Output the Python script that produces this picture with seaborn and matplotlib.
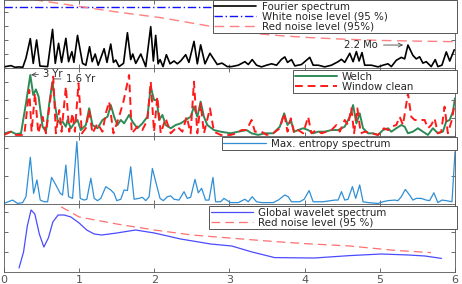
import numpy as np
import pandas as pd
import seaborn as sns
import matplotlib
matplotlib.use("Agg")
import matplotlib.pyplot as plt

# ---------------- data (frequency in cycles / year) ----------------
fourier_x = [0.0, 0.093, 0.146, 0.20, 0.25, 0.292, 0.35, 0.389, 0.434, 0.478, 0.58, 0.646, 0.682, 0.726,
             0.766, 0.823, 0.859, 0.903, 0.93, 0.978, 1.045, 1.089, 1.138, 1.173, 1.213, 1.253, 1.332,
             1.37, 1.42, 1.456, 1.487, 1.53, 1.59, 1.642, 1.686, 1.713, 1.753, 1.82, 1.886, 1.952, 1.987,
             2.018, 2.05, 2.076, 2.116, 2.16, 2.209, 2.262, 2.306, 2.35, 2.417, 2.46, 2.528, 2.572, 2.616,
             2.674, 2.74, 2.837, 2.9, 2.97, 3.028, 3.117, 3.205, 3.25, 3.302, 3.36, 3.426, 3.493, 3.56,
             3.626, 3.692, 3.736, 3.772, 3.825, 3.869, 3.958, 4.068, 4.113, 4.18, 4.267, 4.356, 4.445,
             4.489, 4.533, 4.6, 4.644, 4.688, 4.724, 4.763, 4.799, 4.887, 4.976, 5.042, 5.109, 5.153,
             5.219, 5.286, 5.33, 5.374, 5.44, 5.485, 5.529, 5.573, 5.618, 5.684, 5.737, 5.772, 5.826,
             5.884, 5.93, 5.99]
fourier_y = [0.08, 0.17, 0.05, 0.08, 0.05, 0.7, 2.1, 0.33, 2.0, 0.14, 0.1, 2.76, 0.33, 1.76,
             0.4, 2.12, 0.45, 1.17, 0.4, 2.33, 0.33, 0.2, 1.52, 0.45, 1.0, 0.2, 1.38,
             0.4, 1.71, 0.4, 0.57, 0.1, 0.33, 2.52, 0.6, 1.0, 0.33, 1.0, 0.1, 2.95, 0.5,
             2.33, 0.3, 0.6, 0.1, 0.95, 0.3, 0.5, 0.3, 0.5, 0.95, 0.4, 1.9, 0.3, 1.65,
             0.3, 1.05, 0.25, 0.35, 0.1, 0.1, 0.2, 0.45, 0.25, 0.6, 0.2, 0.08, 0.2, 0.3,
             0.2, 0.62, 0.79, 0.4, 0.6, 0.15, 0.25, 0.76, 0.2, 0.2, 0.08, 0.2, 0.45,
             0.62, 0.4, 1.05, 0.45, 1.17, 0.5, 1.1, 0.2, 0.2, 0.08, 0.2, 0.3, 0.1,
             0.55, 0.76, 0.65, 1.64, 0.9, 0.65, 0.8, 0.35, 0.45, 0.1, 0.6, 0.1, 0.2,
             1.15, 0.5, 1.3]
white_noise_level = 4.36
red_noise1_x = [0.25, 0.42, 1.0, 1.5, 2.08, 2.78, 3.03, 3.7, 4.1, 4.57, 5.0, 5.5, 6.0]
red_noise1_y = [5.3, 4.86, 4.4, 4.0, 3.6, 2.95, 2.6, 2.3, 2.16, 2.05, 1.97, 1.92, 1.88]

welch_x = [0.0, 0.093, 0.16, 0.226, 0.292, 0.35, 0.389, 0.425, 0.46, 0.513, 0.558, 0.602, 0.646, 0.682,
           0.713, 0.748, 0.779, 0.823, 0.845, 0.89, 0.934, 0.978, 1.022, 1.089, 1.133, 1.177, 1.244,
           1.31, 1.377, 1.421, 1.465, 1.509, 1.554, 1.598, 1.664, 1.709, 1.775, 1.841, 1.908, 1.952,
           1.996, 2.032, 2.063, 2.107, 2.151, 2.218, 2.284, 2.35, 2.417, 2.483, 2.527, 2.572, 2.616,
           2.66, 2.705, 2.793, 2.882, 3.014, 3.117, 3.227, 3.294, 3.382, 3.47, 3.581, 3.67, 3.727,
           3.772, 3.816, 3.86, 3.913, 3.98, 4.046, 4.113, 4.179, 4.268, 4.356, 4.445, 4.533, 4.6,
           4.644, 4.688, 4.732, 4.777, 4.843, 4.91, 4.976, 5.042, 5.109, 5.153, 5.219, 5.286, 5.33,
           5.374, 5.44, 5.507, 5.573, 5.64, 5.706, 5.772, 5.839, 5.883, 5.928, 5.972, 6.0]
welch_y = [0.15, 0.24, 0.11, 0.15, 1.81, 3.39, 2.28, 2.59, 2.19, 0.52, 0.24, 1.81, 3.02, 1.63,
           0.89, 0.7, 0.8, 0.52, 0.89, 0.43, 0.7, 0.89, 0.33, 0.61, 1.54, 0.61, 0.43,
           0.89, 1.07, 1.72, 1.07, 0.61, 0.89, 0.7, 1.17, 0.8, 0.43, 0.7, 1.07, 2.74,
           2.0, 2.0, 0.89, 1.17, 0.61, 0.43, 0.61, 0.7, 0.89, 1.07, 1.63, 1.07, 1.91,
           1.07, 0.61, 0.33, 0.24, 0.15, 0.24, 0.33, 0.15, 0.06, 0.15, 0.15, 0.52, 1.26,
           0.61, 0.89, 0.24, 0.33, 0.43, 0.33, 0.15, 0.24, 0.24, 0.33, 0.33, 0.52, 1.07,
           1.72, 0.7, 1.26, 0.43, 0.15, 0.15, 0.06, 0.33, 0.43, 0.24, 0.43, 0.61, 0.52,
           0.15, 0.24, 0.43, 0.24, 0.06, 0.43, 0.15, 0.24, 0.8, 0.89, 1.35, 2.1]

clean_x = [0.0, 0.093, 0.16, 0.27, 0.336, 0.367, 0.412, 0.456, 0.513, 0.558, 0.655, 0.69, 0.735, 0.766,
           0.823, 0.868, 0.912, 0.943, 0.991, 1.036, 1.089, 1.133, 1.177, 1.244, 1.31, 1.354, 1.399,
           1.456, 1.531, 1.589, 1.664, 1.7, 1.775, 1.841, 1.908, 1.952, 1.996, 2.04, 2.085, 2.151,
           2.218, 2.306, 2.373, 2.43, 2.483, 2.527, 2.572, 2.616, 2.66, 2.74, 2.793, 2.882, 3.014,
           3.094, 3.161, 3.227, 3.294, 3.338, 3.426, 3.493, 3.581, 3.67, 3.727, 3.772, 3.816, 3.86,
           3.913, 3.98, 4.046, 4.09, 4.157, 4.223, 4.29, 4.356, 4.422, 4.467, 4.533, 4.577, 4.622,
           4.657, 4.701, 4.746, 4.799, 4.887, 4.976, 5.055, 5.109, 5.153, 5.219, 5.264, 5.308, 5.374,
           5.418, 5.463, 5.529, 5.596, 5.64, 5.684, 5.728, 5.772, 5.817, 5.861, 5.905, 5.958, 6.0]
clean_y = [0.06, 0.24, 0.06, 0.06, 2.56, 0.24, 2.37, 0.15, 1.07, 0.15, 3.3, 0.15, 1.44, 0.24,
           2.74, 0.24, 1.26, 0.24, 2.93, 0.15, 0.43, 1.44, 0.15, 0.7, 0.24, 1.26, 1.91,
           0.15, 1.07, 1.91, 3.39, 0.15, 0.52, 0.33, 0.89, 3.02, 0.24, 2.19, 0.15, 0.98,
           0.15, 0.52, 0.24, 1.07, 0.15, 3.02, 0.15, 1.81, 0.15, 1.54, 0.24, 0.06, 0.06,
           0.15, 0.33, 0.33, 0.89, 0.24, 0.24, 0.06, 0.15, 0.43, 1.26, 0.24, 0.98, 0.15,
           0.33, 0.15, 1.07, 0.15, 0.33, 0.15, 0.24, 0.33, 0.61, 0.24, 0.89, 0.61, 1.54,
           0.15, 1.54, 0.15, 0.24, 0.15, 0.06, 0.43, 0.33, 0.52, 0.61, 1.07, 0.61, 2.37,
           1.07, 0.89, 0.89, 0.89, 0.43, 0.61, 0.98, 0.15, 0.24, 1.63, 0.15, 0.89, 1.91]

mem_x = [0.0, 0.026, 0.115, 0.181, 0.248, 0.292, 0.35, 0.394, 0.438, 0.482, 0.535, 0.58, 0.633, 0.69,
         0.748, 0.779, 0.823, 0.859, 0.912, 0.969, 1.014, 1.067, 1.102, 1.155, 1.2, 1.244, 1.288,
         1.354, 1.421, 1.465, 1.5, 1.554, 1.598, 1.642, 1.686, 1.731, 1.797, 1.841, 1.886, 1.93,
         1.974, 2.018, 2.076, 2.12, 2.173, 2.218, 2.262, 2.328, 2.395, 2.439, 2.483, 2.541, 2.585,
         2.629, 2.682, 2.727, 2.78, 2.815, 2.882, 2.926, 3.014, 3.117, 3.205, 3.249, 3.302, 3.36,
         3.426, 3.581, 3.648, 3.736, 3.781, 3.825, 3.935, 3.993, 4.059, 4.113, 4.245, 4.4, 4.445,
         4.489, 4.533, 4.577, 4.635, 4.679, 4.732, 4.777, 4.843, 4.976, 5.042, 5.109, 5.197, 5.241,
         5.286, 5.339, 5.396, 5.44, 5.485, 5.551, 5.618, 5.662, 5.719, 5.772, 5.826, 5.883, 5.96, 6.0]
mem_y = [0.02, 0.05, 0.14, 0.02, 0.05, 0.26, 1.67, 0.38, 0.86, 0.14, 0.08, 0.08, 0.95, 0.68,
         0.38, 0.32, 1.39, 0.26, 0.2, 2.23, 0.2, 0.14, 0.17, 0.92, 0.2, 0.12, 0.2,
         0.62, 0.5, 0.38, 0.12, 0.17, 0.5, 0.48, 1.33, 0.17, 0.2, 0.24, 0.12, 0.26,
         1.27, 0.8, 0.2, 0.12, 0.26, 0.29, 0.17, 0.14, 0.44, 0.2, 0.24, 0.88, 0.4,
         0.56, 0.14, 0.14, 0.95, 0.08, 0.08, 0.2, 0.05, 0.05, 0.17, 0.08, 0.26, 0.08,
         0.05, 0.05, 0.14, 0.32, 0.26, 0.08, 0.08, 0.17, 0.48, 0.08, 0.08, 0.14, 0.14,
         0.44, 0.14, 0.17, 0.62, 0.2, 0.68, 0.08, 0.05, 0.02, 0.08, 0.12, 0.14, 0.12,
         0.26, 0.52, 0.32, 0.14, 0.2, 0.2, 0.14, 0.12, 0.4, 0.05, 0.14, 0.12, 0.08, 1.86]

gws_x = [0.2, 0.26, 0.31, 0.36, 0.41, 0.47, 0.53, 0.59, 0.65, 0.72, 0.8, 0.89, 1.0, 1.1, 1.2, 1.3,
         1.5, 1.75, 2.0, 2.35, 2.75, 3.03, 3.3, 3.6, 4.13, 4.6, 5.02, 5.38, 5.6, 5.82]
gws_y = [0.2, 1.0, 2.3, 3.1, 2.9, 1.9, 1.25, 1.7, 2.5, 2.85, 2.85, 2.75, 2.45, 2.1, 1.9, 1.85,
         1.95, 2.1, 1.95, 1.65, 1.4, 1.3, 1.0, 0.72, 0.7, 0.82, 0.9, 0.85, 0.8, 0.68]
red_noise4_x = [0.6, 1.0, 1.5, 2.0, 2.5, 3.0, 3.5, 4.0, 4.6, 5.2, 5.68]
red_noise4_y = [3.6, 2.75, 2.4, 2.1, 1.85, 1.7, 1.55, 1.42, 1.3, 1.08, 0.97]

x_ticks = [0, 1, 2, 3, 4, 5, 6]
x_tick_labels = ["0", "1", "2", "3", "4", "5", "6"]

# ---------------- style ----------------
sns.set_theme(style="ticks")
plt.rcParams['font.family'] = ['DejaVu Sans']
plt.rcParams['axes.edgecolor'] = '#555555'
plt.rcParams['axes.linewidth'] = 0.6
plt.rcParams['xtick.color'] = '#555555'
plt.rcParams['ytick.color'] = '#555555'

W, H = 462, 284
fig = plt.figure(figsize=(W / 100, H / 100), dpi=100)
left, right = 4 / W, 455 / W
bands = [(0, 68), (68, 136), (136, 204), (204, 272)]
axes = []
for top, bot in bands:
    ax = fig.add_axes([left, 1 - bot / H, right - left, (bot - top) / H])
    axes.append(ax)

ylims = [(0, 68 / 14), (0, 68 / 18), (0, 68 / 28), (0, 68 / 20)]
yticks = [[1, 2, 3, 4], [1, 2, 3], [1, 2], [1, 2, 3]]


def add_legend(ax, x0, top):
    leg = ax.legend(loc='upper left', bbox_to_anchor=(x0, top - 0.5, 1.004 - x0, 0.5),
                    mode='expand', fontsize=7.4, frameon=True, fancybox=False,
                    edgecolor='#555555', framealpha=1, borderaxespad=0.0,
                    handlelength=4.1, handletextpad=0.5, borderpad=0.15, labelspacing=0.0)
    leg.get_frame().set_linewidth(0.7)
    return leg


# Panel 1
ax = axes[0]
sns.lineplot(x=fourier_x, y=fourier_y, ax=ax, color='black', lw=1.2, sort=False,
             label='Fourier spectrum')
ax.axhline(white_noise_level, color='#1010ff', lw=1.0, ls=(0, (6, 2, 1, 2)),
           label='White noise level (95 %)')
sns.lineplot(x=red_noise1_x, y=red_noise1_y, ax=ax, color='#ff8080', lw=1.0, sort=False,
             label='Red noise level (95%)')
ax.lines[-1].set_linestyle((0, (7, 4)))
ax.annotate('2.2 Mo', xy=(5.31, 1.64), xytext=(4.52, 1.64), fontsize=7.2, va='center', ha='left',
            arrowprops=dict(arrowstyle='->', color='#444444', lw=0.6, shrinkA=2, shrinkB=0))
add_legend(ax, 0.463, 1.0)

# Panel 2
ax = axes[1]
sns.lineplot(x=welch_x, y=welch_y, ax=ax, color='#2e8b57', lw=1.4, sort=False, label='Welch')
sns.lineplot(x=clean_x, y=clean_y, ax=ax, color='#ff1a1a', lw=1.4, sort=False, label='Window clean')
ax.lines[-1].set_linestyle((0, (4, 2.5)))
ax.annotate('3 Yr', xy=(0.36, 3.4), xytext=(0.52, 3.44), fontsize=7.2, va='center', ha='left',
            arrowprops=dict(arrowstyle='->', color='#444444', lw=0.6, shrinkA=1, shrinkB=0))
ax.annotate('1.6 Yr', xy=(0.66, 3.17), xytext=(0.82, 3.17), fontsize=7.2, va='center', ha='left',
            arrowprops=dict(arrowstyle='-', color='#444444', lw=0.6, shrinkA=1, shrinkB=0))
add_legend(ax, 0.641, 0.97)

# Panel 3
ax = axes[2]
sns.lineplot(x=mem_x, y=mem_y, ax=ax, color='#2f8fd6', lw=0.9, sort=False,
             label='Max. entropy spectrum')
add_legend(ax, 0.483, 0.985)

# Panel 4
ax = axes[3]
sns.lineplot(x=gws_x, y=gws_y, ax=ax, color='#4b4bff', lw=0.9, sort=False,
             label='Global wavelet spectrum')
sns.lineplot(x=red_noise4_x, y=red_noise4_y, ax=ax, color='#ff7070', lw=0.9, sort=False,
             label='Red noise level (95 %)')
ax.lines[-1].set_linestyle((0, (7, 4)))
add_legend(ax, 0.455, 0.97)

for i, ax in enumerate(axes):
    ax.set_xlim(0, 6)
    ax.set_ylim(*ylims[i])
    ax.set_xticks(x_ticks)
    ax.set_yticks(yticks[i])
    ax.set_yticklabels([])
    ax.set_xlabel('')
    ax.set_ylabel('')
    ax.tick_params(direction='in', length=3, width=0.6, top=True, right=True, pad=2)
    if i < 3:
        ax.set_xticklabels([])
    else:
        ax.set_xticklabels(x_tick_labels, fontsize=8)
    for s in ax.spines.values():
        s.set_visible(True)

fig.savefig('out.png', dpi=100)
